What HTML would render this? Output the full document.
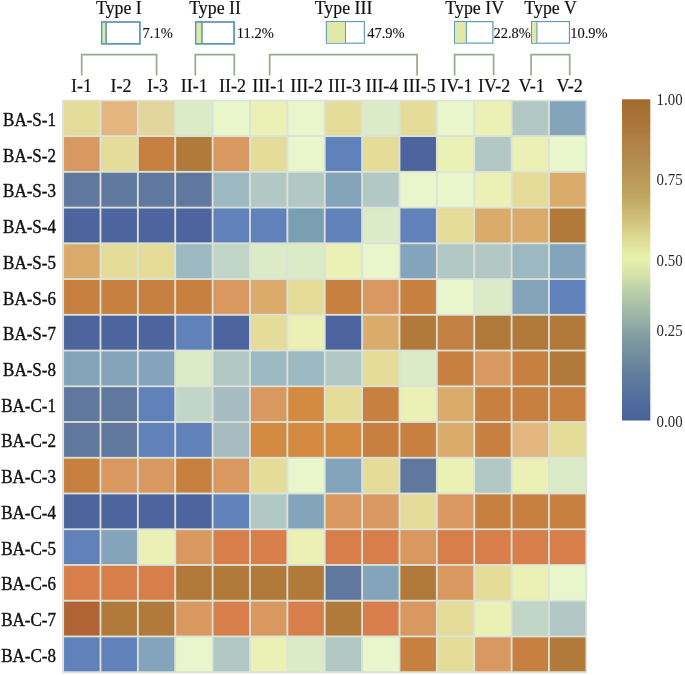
<!DOCTYPE html><html><head><meta charset="utf-8"><style>
html,body{margin:0;padding:0;background:#fff;}
body{width:685px;height:675px;overflow:hidden;}
svg{display:block;will-change:transform;}
text{font-family:"Liberation Serif",serif;stroke:#111;stroke-width:0.2px;}
text.r{stroke-width:0.4px;}
text.n{stroke:none;}
text.p{stroke-width:0.12px;}
</style></head><body>
<svg width="685" height="675" viewBox="0 0 685 675">
<defs><linearGradient id="cb" x1="0" y1="0" x2="0" y2="1">
<stop offset="0.0" stop-color="#a5692f"/>
<stop offset="0.1" stop-color="#ad7a3e"/>
<stop offset="0.2" stop-color="#b58f52"/>
<stop offset="0.3" stop-color="#c0a460"/>
<stop offset="0.4" stop-color="#d6cc84"/>
<stop offset="0.48" stop-color="#e6eea8"/>
<stop offset="0.5" stop-color="#e6f0aa"/>
<stop offset="0.55" stop-color="#d4e2aa"/>
<stop offset="0.6" stop-color="#b8ceaa"/>
<stop offset="0.7" stop-color="#92aca6"/>
<stop offset="0.75" stop-color="#7e98a0"/>
<stop offset="0.85" stop-color="#62809c"/>
<stop offset="0.95" stop-color="#4e6a9c"/>
<stop offset="1.0" stop-color="#48639a"/>
</linearGradient></defs>
<rect x="62.1" y="99.76" width="524.85" height="573.44" fill="#dbe2d7"/>
<rect x="64.03" y="101.28" width="35.52" height="33.89" fill="#e6dc9a"/>
<rect x="101.40" y="101.28" width="35.52" height="33.89" fill="#e3b67f"/>
<rect x="138.78" y="101.28" width="35.52" height="33.89" fill="#e2d59e"/>
<rect x="176.15" y="101.28" width="35.52" height="33.89" fill="#dbeac7"/>
<rect x="213.53" y="101.28" width="35.52" height="33.89" fill="#e9f6cc"/>
<rect x="250.90" y="101.28" width="35.52" height="33.89" fill="#ebf0b4"/>
<rect x="288.28" y="101.28" width="35.52" height="33.89" fill="#e9f6cc"/>
<rect x="325.65" y="101.28" width="35.52" height="33.89" fill="#e6dc9a"/>
<rect x="363.03" y="101.28" width="35.52" height="33.89" fill="#dbeac7"/>
<rect x="400.40" y="101.28" width="35.52" height="33.89" fill="#e6dc9a"/>
<rect x="437.78" y="101.28" width="35.52" height="33.89" fill="#e9f6cc"/>
<rect x="475.15" y="101.28" width="35.52" height="33.89" fill="#ebf0b4"/>
<rect x="512.52" y="101.28" width="35.52" height="33.89" fill="#b2c8c4"/>
<rect x="549.90" y="101.28" width="35.52" height="33.89" fill="#84a4bc"/>
<rect x="64.03" y="137.03" width="35.52" height="33.89" fill="#d99860"/>
<rect x="101.40" y="137.03" width="35.52" height="33.89" fill="#e6dc9a"/>
<rect x="138.78" y="137.03" width="35.52" height="33.89" fill="#c88040"/>
<rect x="176.15" y="137.03" width="35.52" height="33.89" fill="#b27a3a"/>
<rect x="213.53" y="137.03" width="35.52" height="33.89" fill="#d99860"/>
<rect x="250.90" y="137.03" width="35.52" height="33.89" fill="#e6dc9a"/>
<rect x="288.28" y="137.03" width="35.52" height="33.89" fill="#e9f6cc"/>
<rect x="325.65" y="137.03" width="35.52" height="33.89" fill="#6181bb"/>
<rect x="363.03" y="137.03" width="35.52" height="33.89" fill="#e6dc9a"/>
<rect x="400.40" y="137.03" width="35.52" height="33.89" fill="#4e649e"/>
<rect x="437.78" y="137.03" width="35.52" height="33.89" fill="#ebf0b4"/>
<rect x="475.15" y="137.03" width="35.52" height="33.89" fill="#b2c8c4"/>
<rect x="512.52" y="137.03" width="35.52" height="33.89" fill="#ebf0b4"/>
<rect x="549.90" y="137.03" width="35.52" height="33.89" fill="#e9f6cc"/>
<rect x="64.03" y="172.77" width="35.52" height="33.89" fill="#61789e"/>
<rect x="101.40" y="172.77" width="35.52" height="33.89" fill="#61789e"/>
<rect x="138.78" y="172.77" width="35.52" height="33.89" fill="#61789e"/>
<rect x="176.15" y="172.77" width="35.52" height="33.89" fill="#61789e"/>
<rect x="213.53" y="172.77" width="35.52" height="33.89" fill="#9cb8c0"/>
<rect x="250.90" y="172.77" width="35.52" height="33.89" fill="#b2c8c4"/>
<rect x="288.28" y="172.77" width="35.52" height="33.89" fill="#b2c8c4"/>
<rect x="325.65" y="172.77" width="35.52" height="33.89" fill="#84a4bc"/>
<rect x="363.03" y="172.77" width="35.52" height="33.89" fill="#b2c8c4"/>
<rect x="400.40" y="172.77" width="35.52" height="33.89" fill="#e9f6cc"/>
<rect x="437.78" y="172.77" width="35.52" height="33.89" fill="#e9f6cc"/>
<rect x="475.15" y="172.77" width="35.52" height="33.89" fill="#ebf0b4"/>
<rect x="512.52" y="172.77" width="35.52" height="33.89" fill="#e6dc9a"/>
<rect x="549.90" y="172.77" width="35.52" height="33.89" fill="#dbab6c"/>
<rect x="64.03" y="208.50" width="35.52" height="33.89" fill="#4e649e"/>
<rect x="101.40" y="208.50" width="35.52" height="33.89" fill="#4e649e"/>
<rect x="138.78" y="208.50" width="35.52" height="33.89" fill="#4e649e"/>
<rect x="176.15" y="208.50" width="35.52" height="33.89" fill="#4e649e"/>
<rect x="213.53" y="208.50" width="35.52" height="33.89" fill="#6181bb"/>
<rect x="250.90" y="208.50" width="35.52" height="33.89" fill="#6181bb"/>
<rect x="288.28" y="208.50" width="35.52" height="33.89" fill="#7a9eb2"/>
<rect x="325.65" y="208.50" width="35.52" height="33.89" fill="#6181bb"/>
<rect x="363.03" y="208.50" width="35.52" height="33.89" fill="#dbeac7"/>
<rect x="400.40" y="208.50" width="35.52" height="33.89" fill="#6181bb"/>
<rect x="437.78" y="208.50" width="35.52" height="33.89" fill="#e6dc9a"/>
<rect x="475.15" y="208.50" width="35.52" height="33.89" fill="#dbab6c"/>
<rect x="512.52" y="208.50" width="35.52" height="33.89" fill="#dbab6c"/>
<rect x="549.90" y="208.50" width="35.52" height="33.89" fill="#b27a3a"/>
<rect x="64.03" y="244.25" width="35.52" height="33.89" fill="#dbab6c"/>
<rect x="101.40" y="244.25" width="35.52" height="33.89" fill="#e6dc9a"/>
<rect x="138.78" y="244.25" width="35.52" height="33.89" fill="#e6dc9a"/>
<rect x="176.15" y="244.25" width="35.52" height="33.89" fill="#9cb8c0"/>
<rect x="213.53" y="244.25" width="35.52" height="33.89" fill="#c2d6c8"/>
<rect x="250.90" y="244.25" width="35.52" height="33.89" fill="#dbeac7"/>
<rect x="288.28" y="244.25" width="35.52" height="33.89" fill="#dbeac7"/>
<rect x="325.65" y="244.25" width="35.52" height="33.89" fill="#ebf0b4"/>
<rect x="363.03" y="244.25" width="35.52" height="33.89" fill="#e9f6cc"/>
<rect x="400.40" y="244.25" width="35.52" height="33.89" fill="#84a4bc"/>
<rect x="437.78" y="244.25" width="35.52" height="33.89" fill="#b2c8c4"/>
<rect x="475.15" y="244.25" width="35.52" height="33.89" fill="#b2c8c4"/>
<rect x="512.52" y="244.25" width="35.52" height="33.89" fill="#9cb8c0"/>
<rect x="549.90" y="244.25" width="35.52" height="33.89" fill="#84a4bc"/>
<rect x="64.03" y="279.99" width="35.52" height="33.89" fill="#c88040"/>
<rect x="101.40" y="279.99" width="35.52" height="33.89" fill="#c88040"/>
<rect x="138.78" y="279.99" width="35.52" height="33.89" fill="#c88040"/>
<rect x="176.15" y="279.99" width="35.52" height="33.89" fill="#c88040"/>
<rect x="213.53" y="279.99" width="35.52" height="33.89" fill="#d99860"/>
<rect x="250.90" y="279.99" width="35.52" height="33.89" fill="#dbab6c"/>
<rect x="288.28" y="279.99" width="35.52" height="33.89" fill="#e6dc9a"/>
<rect x="325.65" y="279.99" width="35.52" height="33.89" fill="#c88040"/>
<rect x="363.03" y="279.99" width="35.52" height="33.89" fill="#d99860"/>
<rect x="400.40" y="279.99" width="35.52" height="33.89" fill="#c88040"/>
<rect x="437.78" y="279.99" width="35.52" height="33.89" fill="#e9f6cc"/>
<rect x="475.15" y="279.99" width="35.52" height="33.89" fill="#dbeac7"/>
<rect x="512.52" y="279.99" width="35.52" height="33.89" fill="#84a4bc"/>
<rect x="549.90" y="279.99" width="35.52" height="33.89" fill="#6181bb"/>
<rect x="64.03" y="315.73" width="35.52" height="33.89" fill="#4e649e"/>
<rect x="101.40" y="315.73" width="35.52" height="33.89" fill="#4e649e"/>
<rect x="138.78" y="315.73" width="35.52" height="33.89" fill="#4e649e"/>
<rect x="176.15" y="315.73" width="35.52" height="33.89" fill="#6181bb"/>
<rect x="213.53" y="315.73" width="35.52" height="33.89" fill="#4e649e"/>
<rect x="250.90" y="315.73" width="35.52" height="33.89" fill="#e6dc9a"/>
<rect x="288.28" y="315.73" width="35.52" height="33.89" fill="#ebf0b4"/>
<rect x="325.65" y="315.73" width="35.52" height="33.89" fill="#4e649e"/>
<rect x="363.03" y="315.73" width="35.52" height="33.89" fill="#dbab6c"/>
<rect x="400.40" y="315.73" width="35.52" height="33.89" fill="#b27a3a"/>
<rect x="437.78" y="315.73" width="35.52" height="33.89" fill="#c38244"/>
<rect x="475.15" y="315.73" width="35.52" height="33.89" fill="#b27a3a"/>
<rect x="512.52" y="315.73" width="35.52" height="33.89" fill="#b27a3a"/>
<rect x="549.90" y="315.73" width="35.52" height="33.89" fill="#b27a3a"/>
<rect x="64.03" y="351.47" width="35.52" height="33.89" fill="#84a4bc"/>
<rect x="101.40" y="351.47" width="35.52" height="33.89" fill="#84a4bc"/>
<rect x="138.78" y="351.47" width="35.52" height="33.89" fill="#84a4bc"/>
<rect x="176.15" y="351.47" width="35.52" height="33.89" fill="#dbeac7"/>
<rect x="213.53" y="351.47" width="35.52" height="33.89" fill="#b2c8c4"/>
<rect x="250.90" y="351.47" width="35.52" height="33.89" fill="#9cb8c0"/>
<rect x="288.28" y="351.47" width="35.52" height="33.89" fill="#9cb8c0"/>
<rect x="325.65" y="351.47" width="35.52" height="33.89" fill="#b2c8c4"/>
<rect x="363.03" y="351.47" width="35.52" height="33.89" fill="#e6dc9a"/>
<rect x="400.40" y="351.47" width="35.52" height="33.89" fill="#dbeac7"/>
<rect x="437.78" y="351.47" width="35.52" height="33.89" fill="#c88040"/>
<rect x="475.15" y="351.47" width="35.52" height="33.89" fill="#d99860"/>
<rect x="512.52" y="351.47" width="35.52" height="33.89" fill="#c88040"/>
<rect x="549.90" y="351.47" width="35.52" height="33.89" fill="#b27a3a"/>
<rect x="64.03" y="387.21" width="35.52" height="33.89" fill="#61789e"/>
<rect x="101.40" y="387.21" width="35.52" height="33.89" fill="#61789e"/>
<rect x="138.78" y="387.21" width="35.52" height="33.89" fill="#6181bb"/>
<rect x="176.15" y="387.21" width="35.52" height="33.89" fill="#c2d6c8"/>
<rect x="213.53" y="387.21" width="35.52" height="33.89" fill="#a6bcc0"/>
<rect x="250.90" y="387.21" width="35.52" height="33.89" fill="#d99860"/>
<rect x="288.28" y="387.21" width="35.52" height="33.89" fill="#d48a40"/>
<rect x="325.65" y="387.21" width="35.52" height="33.89" fill="#e6dc9a"/>
<rect x="363.03" y="387.21" width="35.52" height="33.89" fill="#c88040"/>
<rect x="400.40" y="387.21" width="35.52" height="33.89" fill="#ebf0b4"/>
<rect x="437.78" y="387.21" width="35.52" height="33.89" fill="#dbab6c"/>
<rect x="475.15" y="387.21" width="35.52" height="33.89" fill="#c88040"/>
<rect x="512.52" y="387.21" width="35.52" height="33.89" fill="#c88040"/>
<rect x="549.90" y="387.21" width="35.52" height="33.89" fill="#c88040"/>
<rect x="64.03" y="422.95" width="35.52" height="33.89" fill="#61789e"/>
<rect x="101.40" y="422.95" width="35.52" height="33.89" fill="#61789e"/>
<rect x="138.78" y="422.95" width="35.52" height="33.89" fill="#6181bb"/>
<rect x="176.15" y="422.95" width="35.52" height="33.89" fill="#6181bb"/>
<rect x="213.53" y="422.95" width="35.52" height="33.89" fill="#a6bcc0"/>
<rect x="250.90" y="422.95" width="35.52" height="33.89" fill="#d48a40"/>
<rect x="288.28" y="422.95" width="35.52" height="33.89" fill="#d48a40"/>
<rect x="325.65" y="422.95" width="35.52" height="33.89" fill="#d48a40"/>
<rect x="363.03" y="422.95" width="35.52" height="33.89" fill="#c88040"/>
<rect x="400.40" y="422.95" width="35.52" height="33.89" fill="#c88040"/>
<rect x="437.78" y="422.95" width="35.52" height="33.89" fill="#dbab6c"/>
<rect x="475.15" y="422.95" width="35.52" height="33.89" fill="#c88040"/>
<rect x="512.52" y="422.95" width="35.52" height="33.89" fill="#e3b67f"/>
<rect x="549.90" y="422.95" width="35.52" height="33.89" fill="#e6dc9a"/>
<rect x="64.03" y="458.69" width="35.52" height="33.89" fill="#c88040"/>
<rect x="101.40" y="458.69" width="35.52" height="33.89" fill="#d99860"/>
<rect x="138.78" y="458.69" width="35.52" height="33.89" fill="#d99860"/>
<rect x="176.15" y="458.69" width="35.52" height="33.89" fill="#c88040"/>
<rect x="213.53" y="458.69" width="35.52" height="33.89" fill="#d99860"/>
<rect x="250.90" y="458.69" width="35.52" height="33.89" fill="#e6dc9a"/>
<rect x="288.28" y="458.69" width="35.52" height="33.89" fill="#e9f6cc"/>
<rect x="325.65" y="458.69" width="35.52" height="33.89" fill="#84a4bc"/>
<rect x="363.03" y="458.69" width="35.52" height="33.89" fill="#e6dc9a"/>
<rect x="400.40" y="458.69" width="35.52" height="33.89" fill="#61789e"/>
<rect x="437.78" y="458.69" width="35.52" height="33.89" fill="#ebf0b4"/>
<rect x="475.15" y="458.69" width="35.52" height="33.89" fill="#b2c8c4"/>
<rect x="512.52" y="458.69" width="35.52" height="33.89" fill="#ebf0b4"/>
<rect x="549.90" y="458.69" width="35.52" height="33.89" fill="#dbeac7"/>
<rect x="64.03" y="494.43" width="35.52" height="33.89" fill="#4e649e"/>
<rect x="101.40" y="494.43" width="35.52" height="33.89" fill="#4e649e"/>
<rect x="138.78" y="494.43" width="35.52" height="33.89" fill="#4e649e"/>
<rect x="176.15" y="494.43" width="35.52" height="33.89" fill="#4e649e"/>
<rect x="213.53" y="494.43" width="35.52" height="33.89" fill="#6181bb"/>
<rect x="250.90" y="494.43" width="35.52" height="33.89" fill="#b2c8c4"/>
<rect x="288.28" y="494.43" width="35.52" height="33.89" fill="#84a4bc"/>
<rect x="325.65" y="494.43" width="35.52" height="33.89" fill="#d99860"/>
<rect x="363.03" y="494.43" width="35.52" height="33.89" fill="#d99860"/>
<rect x="400.40" y="494.43" width="35.52" height="33.89" fill="#e6dc9a"/>
<rect x="437.78" y="494.43" width="35.52" height="33.89" fill="#d99860"/>
<rect x="475.15" y="494.43" width="35.52" height="33.89" fill="#c88040"/>
<rect x="512.52" y="494.43" width="35.52" height="33.89" fill="#c88040"/>
<rect x="549.90" y="494.43" width="35.52" height="33.89" fill="#c88040"/>
<rect x="64.03" y="530.16" width="35.52" height="33.89" fill="#6181bb"/>
<rect x="101.40" y="530.16" width="35.52" height="33.89" fill="#84a4bc"/>
<rect x="138.78" y="530.16" width="35.52" height="33.89" fill="#ebf0b4"/>
<rect x="176.15" y="530.16" width="35.52" height="33.89" fill="#d99860"/>
<rect x="213.53" y="530.16" width="35.52" height="33.89" fill="#d77e4a"/>
<rect x="250.90" y="530.16" width="35.52" height="33.89" fill="#d77e4a"/>
<rect x="288.28" y="530.16" width="35.52" height="33.89" fill="#ebf0b4"/>
<rect x="325.65" y="530.16" width="35.52" height="33.89" fill="#d77e4a"/>
<rect x="363.03" y="530.16" width="35.52" height="33.89" fill="#d77e4a"/>
<rect x="400.40" y="530.16" width="35.52" height="33.89" fill="#d99860"/>
<rect x="437.78" y="530.16" width="35.52" height="33.89" fill="#d77e4a"/>
<rect x="475.15" y="530.16" width="35.52" height="33.89" fill="#d77e4a"/>
<rect x="512.52" y="530.16" width="35.52" height="33.89" fill="#d77e4a"/>
<rect x="549.90" y="530.16" width="35.52" height="33.89" fill="#d77e4a"/>
<rect x="64.03" y="565.90" width="35.52" height="33.89" fill="#d77e4a"/>
<rect x="101.40" y="565.90" width="35.52" height="33.89" fill="#d77e4a"/>
<rect x="138.78" y="565.90" width="35.52" height="33.89" fill="#d77e4a"/>
<rect x="176.15" y="565.90" width="35.52" height="33.89" fill="#b27a3a"/>
<rect x="213.53" y="565.90" width="35.52" height="33.89" fill="#b27a3a"/>
<rect x="250.90" y="565.90" width="35.52" height="33.89" fill="#b27a3a"/>
<rect x="288.28" y="565.90" width="35.52" height="33.89" fill="#b27a3a"/>
<rect x="325.65" y="565.90" width="35.52" height="33.89" fill="#61789e"/>
<rect x="363.03" y="565.90" width="35.52" height="33.89" fill="#84a4bc"/>
<rect x="400.40" y="565.90" width="35.52" height="33.89" fill="#b27a3a"/>
<rect x="437.78" y="565.90" width="35.52" height="33.89" fill="#d99860"/>
<rect x="475.15" y="565.90" width="35.52" height="33.89" fill="#e6dc9a"/>
<rect x="512.52" y="565.90" width="35.52" height="33.89" fill="#ebf0b4"/>
<rect x="549.90" y="565.90" width="35.52" height="33.89" fill="#e9f6cc"/>
<rect x="64.03" y="601.64" width="35.52" height="33.89" fill="#b06434"/>
<rect x="101.40" y="601.64" width="35.52" height="33.89" fill="#b27a3a"/>
<rect x="138.78" y="601.64" width="35.52" height="33.89" fill="#b27a3a"/>
<rect x="176.15" y="601.64" width="35.52" height="33.89" fill="#d99860"/>
<rect x="213.53" y="601.64" width="35.52" height="33.89" fill="#d77e4a"/>
<rect x="250.90" y="601.64" width="35.52" height="33.89" fill="#d99860"/>
<rect x="288.28" y="601.64" width="35.52" height="33.89" fill="#d77e4a"/>
<rect x="325.65" y="601.64" width="35.52" height="33.89" fill="#b27a3a"/>
<rect x="363.03" y="601.64" width="35.52" height="33.89" fill="#d77e4a"/>
<rect x="400.40" y="601.64" width="35.52" height="33.89" fill="#d99860"/>
<rect x="437.78" y="601.64" width="35.52" height="33.89" fill="#e6dc9a"/>
<rect x="475.15" y="601.64" width="35.52" height="33.89" fill="#ebf0b4"/>
<rect x="512.52" y="601.64" width="35.52" height="33.89" fill="#c2d6c8"/>
<rect x="549.90" y="601.64" width="35.52" height="33.89" fill="#b2c8c4"/>
<rect x="64.03" y="637.38" width="35.52" height="33.89" fill="#6181bb"/>
<rect x="101.40" y="637.38" width="35.52" height="33.89" fill="#6181bb"/>
<rect x="138.78" y="637.38" width="35.52" height="33.89" fill="#84a4bc"/>
<rect x="176.15" y="637.38" width="35.52" height="33.89" fill="#e9f6cc"/>
<rect x="213.53" y="637.38" width="35.52" height="33.89" fill="#b2c8c4"/>
<rect x="250.90" y="637.38" width="35.52" height="33.89" fill="#ebf0b4"/>
<rect x="288.28" y="637.38" width="35.52" height="33.89" fill="#dbeac7"/>
<rect x="325.65" y="637.38" width="35.52" height="33.89" fill="#b2c8c4"/>
<rect x="363.03" y="637.38" width="35.52" height="33.89" fill="#e9f6cc"/>
<rect x="400.40" y="637.38" width="35.52" height="33.89" fill="#c88040"/>
<rect x="437.78" y="637.38" width="35.52" height="33.89" fill="#e6dc9a"/>
<rect x="475.15" y="637.38" width="35.52" height="33.89" fill="#d99860"/>
<rect x="512.52" y="637.38" width="35.52" height="33.89" fill="#c88040"/>
<rect x="549.90" y="637.38" width="35.52" height="33.89" fill="#b27a3a"/>
<text x="81.59" y="92" font-size="18" text-anchor="middle" fill="#111">I-1</text>
<text x="120.96" y="92" font-size="18" text-anchor="middle" fill="#111">I-2</text>
<text x="157.44" y="92" font-size="18" text-anchor="middle" fill="#111">I-3</text>
<text x="194.31" y="92" font-size="18" text-anchor="middle" fill="#111">II-1</text>
<text x="232.49" y="92" font-size="18" text-anchor="middle" fill="#111">II-2</text>
<text x="268.66" y="92" font-size="18" text-anchor="middle" fill="#111">III-1</text>
<text x="306.64" y="92" font-size="18" text-anchor="middle" fill="#111">III-2</text>
<text x="344.61" y="92" font-size="18" text-anchor="middle" fill="#111">III-3</text>
<text x="381.89" y="92" font-size="18" text-anchor="middle" fill="#111">III-4</text>
<text x="419.16" y="92" font-size="18" text-anchor="middle" fill="#111">III-5</text>
<text x="456.34" y="92" font-size="18" text-anchor="middle" fill="#111">IV-1</text>
<text x="494.11" y="92" font-size="18" text-anchor="middle" fill="#111">IV-2</text>
<text x="531.69" y="92" font-size="18" text-anchor="middle" fill="#111">V-1</text>
<text x="569.66" y="92" font-size="18" text-anchor="middle" fill="#111">V-2</text>
<text transform="translate(56.0 125.83) scale(0.925 1)" class="r" font-size="18.4" text-anchor="end" fill="#111">BA-S-1</text>
<text transform="translate(56.0 161.57) scale(0.925 1)" class="r" font-size="18.4" text-anchor="end" fill="#111">BA-S-2</text>
<text transform="translate(56.0 197.31) scale(0.925 1)" class="r" font-size="18.4" text-anchor="end" fill="#111">BA-S-3</text>
<text transform="translate(56.0 233.05) scale(0.925 1)" class="r" font-size="18.4" text-anchor="end" fill="#111">BA-S-4</text>
<text transform="translate(56.0 268.79) scale(0.925 1)" class="r" font-size="18.4" text-anchor="end" fill="#111">BA-S-5</text>
<text transform="translate(56.0 304.53) scale(0.925 1)" class="r" font-size="18.4" text-anchor="end" fill="#111">BA-S-6</text>
<text transform="translate(56.0 340.27) scale(0.925 1)" class="r" font-size="18.4" text-anchor="end" fill="#111">BA-S-7</text>
<text transform="translate(56.0 376.01) scale(0.925 1)" class="r" font-size="18.4" text-anchor="end" fill="#111">BA-S-8</text>
<text transform="translate(56.0 411.75) scale(0.925 1)" class="r" font-size="18.4" text-anchor="end" fill="#111">BA-C-1</text>
<text transform="translate(56.0 447.49) scale(0.925 1)" class="r" font-size="18.4" text-anchor="end" fill="#111">BA-C-2</text>
<text transform="translate(56.0 483.23) scale(0.925 1)" class="r" font-size="18.4" text-anchor="end" fill="#111">BA-C-3</text>
<text transform="translate(56.0 518.97) scale(0.925 1)" class="r" font-size="18.4" text-anchor="end" fill="#111">BA-C-4</text>
<text transform="translate(56.0 554.71) scale(0.925 1)" class="r" font-size="18.4" text-anchor="end" fill="#111">BA-C-5</text>
<text transform="translate(56.0 590.45) scale(0.925 1)" class="r" font-size="18.4" text-anchor="end" fill="#111">BA-C-6</text>
<text transform="translate(56.0 626.19) scale(0.925 1)" class="r" font-size="18.4" text-anchor="end" fill="#111">BA-C-7</text>
<text transform="translate(56.0 661.93) scale(0.925 1)" class="r" font-size="18.4" text-anchor="end" fill="#111">BA-C-8</text>
<path d="M81.7 75.5V54.6H156.6V75.5" fill="none" stroke="#95ab8b" stroke-width="1.7"/>
<path d="M195.3 75.5V54.6H234.3V75.5" fill="none" stroke="#95ab8b" stroke-width="1.7"/>
<path d="M269.7 75.5V54.6H417.1V75.5" fill="none" stroke="#95ab8b" stroke-width="1.7"/>
<path d="M454.6 75.5V54.6H493.6V75.5" fill="none" stroke="#95ab8b" stroke-width="1.7"/>
<path d="M531.1 75.5V54.6H569.7V75.5" fill="none" stroke="#95ab8b" stroke-width="1.7"/>
<text transform="translate(118.9 14.1) scale(0.97 1)" font-size="18.4" text-anchor="middle" fill="#111">Type I</text>
<rect x="101.80" y="22.00" width="38.10" height="21.85" fill="#fff" stroke="#5d9cb5" stroke-width="1.8"/>
<rect x="102.70" y="22.90" width="3.40" height="20.05" fill="#e2e8a8"/>
<line x1="106.10" y1="22.00" x2="106.10" y2="43.85" stroke="#5d9cb5" stroke-width="1.62"/>
<text class="p" x="142.5" y="37.6" font-size="14.5" fill="#111">7.1%</text>
<text transform="translate(215.05 14.1) scale(0.97 1)" font-size="18.4" text-anchor="middle" fill="#111">Type II</text>
<rect x="195.80" y="22.00" width="38.30" height="21.85" fill="#fff" stroke="#5d9cb5" stroke-width="1.8"/>
<rect x="196.70" y="22.90" width="5.25" height="20.05" fill="#e2e8a8"/>
<line x1="201.95" y1="22.00" x2="201.95" y2="43.85" stroke="#5d9cb5" stroke-width="1.62"/>
<text class="p" x="236.8" y="37.6" font-size="14.5" fill="#111">11.2%</text>
<text transform="translate(343.5 14.1) scale(0.97 1)" font-size="18.4" text-anchor="middle" fill="#111">Type III</text>
<rect x="326.38" y="21.57" width="37.95" height="21.65" fill="#fff" stroke="#5d9cb5" stroke-width="1.15"/>
<rect x="326.95" y="22.15" width="18.55" height="20.50" fill="#e2e8a8"/>
<line x1="345.50" y1="21.57" x2="345.50" y2="43.22" stroke="#5d9cb5" stroke-width="1.03"/>
<text class="p" x="367.2" y="37.6" font-size="14.5" fill="#111">47.9%</text>
<text transform="translate(474.7 14.1) scale(0.97 1)" font-size="18.4" text-anchor="middle" fill="#111">Type IV</text>
<rect x="454.60" y="21.60" width="38.30" height="21.50" fill="#fff" stroke="#5d9cb5" stroke-width="1.2"/>
<rect x="455.20" y="22.20" width="11.15" height="20.30" fill="#e2e8a8"/>
<line x1="466.35" y1="21.60" x2="466.35" y2="43.10" stroke="#5d9cb5" stroke-width="1.08"/>
<text class="p" x="493.4" y="37.6" font-size="14.5" fill="#111">22.8%</text>
<text transform="translate(550.55 14.1) scale(0.97 1)" font-size="18.4" text-anchor="middle" fill="#111">Type V</text>
<rect x="531.58" y="21.57" width="37.85" height="21.65" fill="#fff" stroke="#5d9cb5" stroke-width="1.15"/>
<rect x="532.15" y="22.15" width="4.80" height="20.50" fill="#e2e8a8"/>
<line x1="536.95" y1="21.57" x2="536.95" y2="43.22" stroke="#5d9cb5" stroke-width="1.03"/>
<text class="p" x="570.2" y="37.6" font-size="14.5" fill="#111">10.9%</text>
<rect x="622" y="99.3" width="28.3" height="321.2" fill="url(#cb)"/>
<text transform="translate(656.6 104.80) scale(0.9 1)" class="n" font-size="16.5" fill="#2a2a2a">1.00</text>
<text transform="translate(656.6 185.30) scale(0.9 1)" class="n" font-size="16.5" fill="#2a2a2a">0.75</text>
<text transform="translate(656.6 266.40) scale(0.9 1)" class="n" font-size="16.5" fill="#2a2a2a">0.50</text>
<text transform="translate(656.6 336.00) scale(0.9 1)" class="n" font-size="16.5" fill="#2a2a2a">0.25</text>
<text transform="translate(656.6 426.80) scale(0.9 1)" class="n" font-size="16.5" fill="#2a2a2a">0.00</text>
</svg></body></html>
